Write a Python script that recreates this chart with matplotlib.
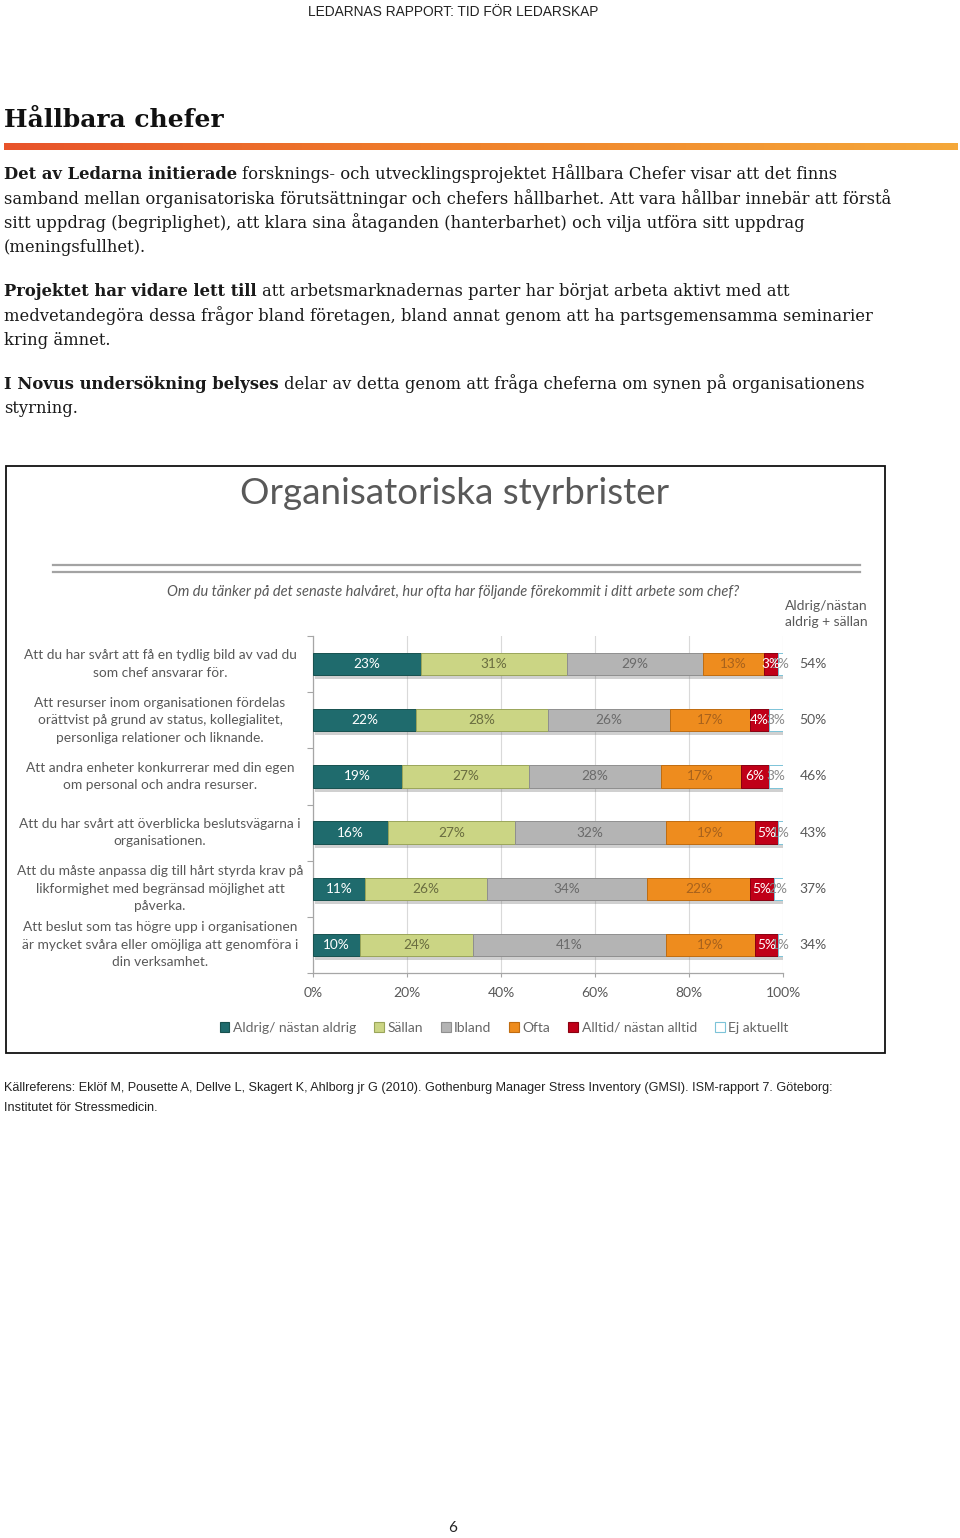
import numpy as np
import matplotlib.pyplot as plt
from matplotlib import font_manager
from matplotlib.patches import Patch, Rectangle
from matplotlib.lines import Line2D
from matplotlib.colors import LinearSegmentedColormap
import matplotlib.transforms as mtransforms

W, H = 960, 1538


def pick(*names):
    # first installed family wins
    for n in names:
        try:
            font_manager.findfont(font_manager.FontProperties(family=n),
                                  fallback_to_default=False)
            return n
        except ValueError:
            pass
    return 'DejaVu Sans'


NARROW = pick('Liberation Sans Narrow', 'Liberation Sans')
SERIF = pick('DejaVu Serif')
CHART = pick('Lato', 'Open Sans')

# data
fragor = ['Att du har svårt att få en tydlig bild av vad du\nsom chef ansvarar för.',
          'Att resurser inom organisationen fördelas\norättvist på grund av status, kollegialitet,\npersonliga relationer och liknande.',
          'Att andra enheter konkurrerar med din egen\nom personal och andra resurser.',
          'Att du har svårt att överblicka beslutsvägarna i\norganisationen.',
          'Att du måste anpassa dig till hårt styrda krav på\nlikformighet med begränsad möjlighet att\npåverka.',
          'Att beslut som tas högre upp i organisationen\när mycket svåra eller omöjliga att genomföra i\ndin verksamhet.']
serier = ['Aldrig/ nästan aldrig', 'Sällan', 'Ibland', 'Ofta',
          'Alltid/ nästan alltid', 'Ej aktuellt']
aldrig = [23, 22, 19, 16, 11, 10]
sallan = [31, 28, 27, 27, 26, 24]
ibland = [29, 26, 28, 32, 34, 41]
ofta = [13, 17, 17, 19, 22, 19]
alltid = [3, 4, 6, 5, 5, 5]
ej = [1, 3, 3, 1, 2, 1]
summa = [54, 50, 46, 43, 37, 34]
xticks = [0, 20, 40, 60, 80, 100]

farger = ['#1f6b6d', '#cbd584', '#b4b4b4', '#ee8c1e', '#c00018', '#ffffff']
kanter = ['#17514f', '#9aa55a', '#8f8f8f', '#c06c10', '#8a0010', '#7cc3d8']
textfarg = ['white', '#6a6d40', '#6a6a6a', '#a8621c', 'white', '#8a8a8a']
textlager = [5, 5, 5, 5, 6, 4]


def fy(y):
    return 1 - y / H


fig = plt.figure(figsize=(W / 100, H / 100), dpi=100)
fig.patch.set_facecolor('white')
rend = fig.canvas.get_renderer()

# sidhuvud
fig.text(453 / W, fy(12), 'LEDARNAS RAPPORT: TID FÖR LEDARSKAP', family=NARROW,
         fontsize=9.9, color='#222222', ha='center', va='center')

fig.text(4 / W, fy(127), 'Hållbara chefer', family=SERIF, fontweight='bold',
         fontsize=18, color='#111111', ha='left', va='baseline')

# orange gradientlinje
axg = fig.add_axes([4 / W, fy(150), 954 / W, 7 / H])
grad = np.linspace(0, 1, 256).reshape(1, -1)
axg.imshow(grad, aspect='auto',
           cmap=LinearSegmentedColormap.from_list('g', ['#e8532a', '#f0832c', '#f5a83a']))
axg.axis('off')


def rad(x, y, delar, size=11.75):
    for txt, fet in delar:
        t = fig.text(x / W, fy(y), txt, family=SERIF, fontsize=size, color='#1a1a1a',
                     fontweight='bold' if fet else 'normal', ha='left', va='baseline')
        x += t.get_window_extent(rend).width + 0.32 * size * 100 / 72


stycken = [
    (179, [('Det av Ledarna initierade', True),
           ('forsknings- och utvecklingsprojektet Hållbara Chefer visar att det finns', False)]),
    (204, [('samband mellan organisatoriska förutsättningar och chefers hållbarhet. Att vara hållbar innebär att förstå', False)]),
    (228, [('sitt uppdrag (begriplighet), att klara sina åtaganden (hanterbarhet) och vilja utföra sitt uppdrag', False)]),
    (252, [('(meningsfullhet).', False)]),
    (296, [('Projektet har vidare lett till', True),
           ('att arbetsmarknadernas parter har börjat arbeta aktivt med att', False)]),
    (321, [('medvetandegöra dessa frågor bland företagen, bland annat genom att ha partsgemensamma seminarier', False)]),
    (345, [('kring ämnet.', False)]),
    (389, [('I Novus undersökning belyses', True),
           ('delar av detta genom att fråga cheferna om synen på organisationens', False)]),
    (413, [('styrning.', False)]),
]
for y, delar in stycken:
    rad(4, y, delar)

# diagramram
fig.patches.append(Rectangle((6 / W, fy(1053)), 879 / W, 587 / H, transform=fig.transFigure,
                             fill=False, edgecolor='#111111', linewidth=1.3))

fig.text(455 / W, fy(494), 'Organisatoriska styrbrister', family=CHART, fontsize=26.5,
         color='#595959', ha='center', va='center')
for yl in (565, 572):
    fig.lines.append(Line2D([53 / W, 860 / W], [fy(yl), fy(yl)], transform=fig.transFigure,
                            color='#a3a3a3', linewidth=1.6))
fig.text(453 / W, fy(592),
         'Om du tänker på det senaste halvåret, hur ofta har följande förekommit i ditt arbete som chef?',
         family=CHART, style='italic', fontsize=10.5, color='#595959', ha='center', va='center')
fig.text(785 / W, fy(614), 'Aldrig/nästan\naldrig + sällan', family=CHART, fontsize=10,
         color='#595959', ha='left', va='center', linespacing=1.3)

ax = fig.add_axes([313 / W, fy(973), 470 / W, 337 / H])
y = np.arange(len(fragor))
vanster = np.zeros(len(fragor))
for vals, fc, ec, tc, z in zip([aldrig, sallan, ibland, ofta, alltid, ej],
                               farger, kanter, textfarg, textlager):
    vals = np.array(vals, dtype=float)
    ax.barh(y, vals, left=vanster, height=0.4, color=fc, edgecolor=ec, linewidth=0.7, zorder=3)
    for yi, v, l in zip(y, vals, vanster):
        ax.text(l + v / 2, yi, f'{int(v)}%', family=CHART, fontsize=9.8, color=tc,
                ha='center', va='center', zorder=z, clip_on=False)
    vanster = vanster + vals
# skugga under staplarna
ax.barh(y + 0.07, vanster, left=0.4, height=0.4, color='#7a7a7a', alpha=0.35,
        linewidth=0, zorder=2)

for yi, s in zip(y, summa):
    ax.text(103.5, yi, f'{s}%', family=CHART, fontsize=10, color='#595959',
            ha='left', va='center', clip_on=False)

trans = mtransforms.blended_transform_factory(fig.transFigure, ax.transData)
for yi, f in zip(y, fragor):
    ax.text(160 / W, yi, f, transform=trans, family=CHART, fontsize=9.9, color='#595959',
            ha='center', va='center', linespacing=1.55, clip_on=False)

ax.set_xlim(0, 100)
ax.set_ylim(len(fragor) - 0.5, -0.5)
ax.set_xticks(xticks)
ax.set_xticklabels([f'{t}%' for t in xticks], family=CHART, fontsize=10, color='#595959')
ax.set_yticks(np.arange(-0.5, len(fragor), 1))
ax.set_yticklabels([])
ax.tick_params(axis='y', length=4, color='#a6a6a6', width=0.8)
ax.tick_params(axis='x', length=3, color='#a6a6a6', width=0.8, pad=7)
for s in ('top', 'right'):
    ax.spines[s].set_visible(False)
for s in ('left', 'bottom'):
    ax.spines[s].set_color('#a6a6a6')
    ax.spines[s].set_linewidth(0.9)
ax.grid(axis='x', color='#d9d9d9', linewidth=0.8, zorder=0)
ax.set_axisbelow(True)

handles = [Patch(facecolor=fc, edgecolor=ec, linewidth=0.8) for fc, ec in zip(farger, kanter)]
leg = fig.legend(handles, serier, loc='center', bbox_to_anchor=(504 / W, fy(1028)), ncol=6,
                 frameon=False, handlelength=0.7, handleheight=0.7, handletextpad=0.25,
                 columnspacing=1.3, prop={'family': CHART, 'size': 10})
for t in leg.get_texts():
    t.set_color('#666666')

fig.text(4 / W, fy(1088),
         'Källreferens: Eklöf M, Pousette A, Dellve L, Skagert K, Ahlborg jr G (2010). Gothenburg Manager Stress Inventory (GMSI). ISM-rapport 7. Göteborg:',
         family=NARROW, fontsize=9.1, color='#222222', ha='left', va='center')
fig.text(4 / W, fy(1108), 'Institutet för Stressmedicin.', family=NARROW, fontsize=9.1,
         color='#222222', ha='left', va='center')

fig.text(453 / W, fy(1528), '6', family=CHART, fontsize=11, color='#222222',
         ha='center', va='center')

plt.savefig('out.png', dpi=100)
